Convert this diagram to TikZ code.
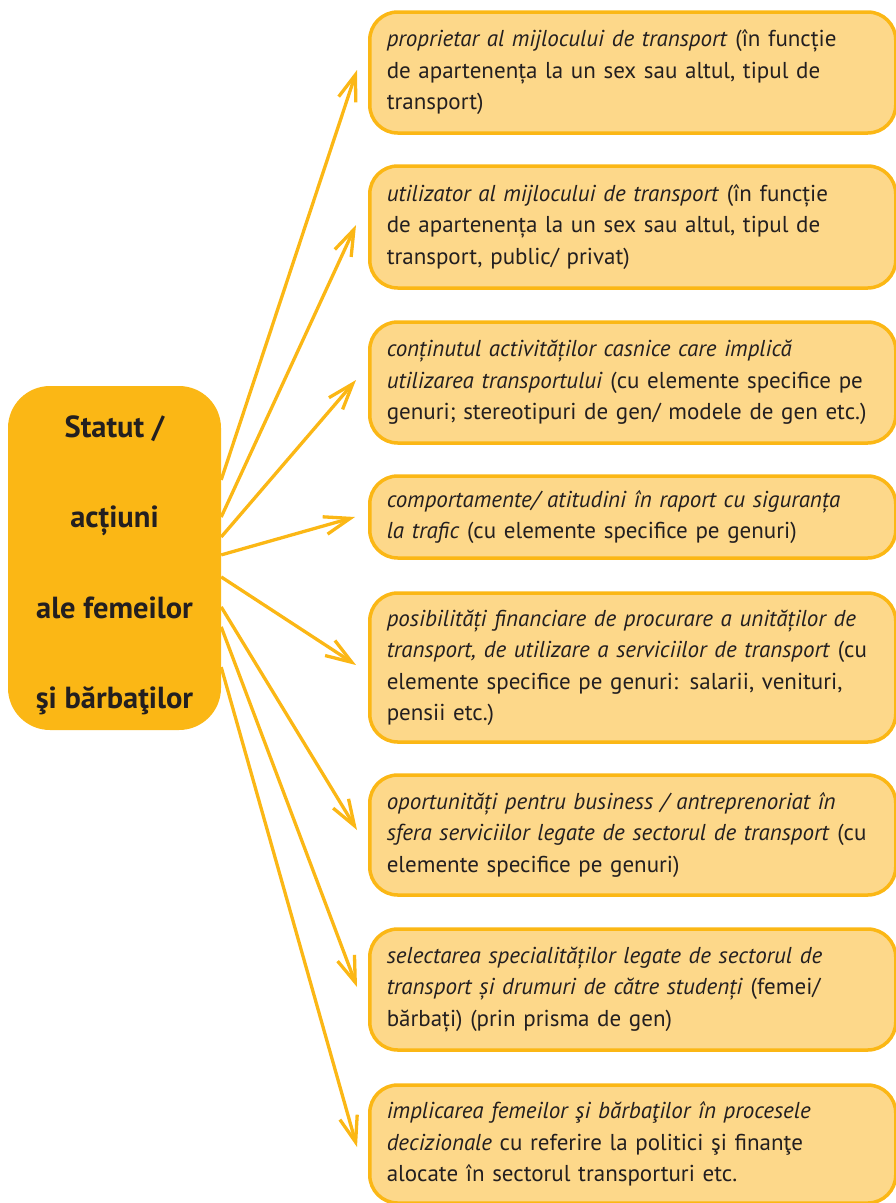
\documentclass[tikz,border=0pt]{standalone}
\usepackage{fontspec}
\setmainfont{PT Sans}
\usetikzlibrary{arrows.meta,calc}
\definecolor{gold}{RGB}{251,183,21}
\definecolor{lightgold}{RGB}{253,216,138}
\definecolor{ink}{RGB}{35,31,32}
\begin{document}
\begin{tikzpicture}[x=1pt,y=-1pt,
  rbox/.style={draw=gold, line width=3.5pt, fill=lightgold, rounded corners=28pt,
    text width=492pt, inner xsep=17pt, inner ysep=0pt, align=left, anchor=west,
    font=\fontsize{23}{31.5}\selectfont, text=ink},
  lbox/.style={fill=gold, draw=none, rounded corners=42pt, minimum width=213pt,
    minimum height=344pt, align=center, inner sep=0pt,
    font=\bfseries\fontsize{30.5}{90.5}\selectfont, text=ink},
  arr/.style={draw=gold, line width=3.3pt, -{Straight Barb[length=26pt,width=18pt]}}]
\useasboundingbox (0,0) rectangle (896,1203);

\node[lbox] (L) at (114.5,558) {\rule{0pt}{36pt}Statut /\\acțiuni\\ale femeilor\\şi bărbaţilor};

\node[rbox, minimum height=121pt] (b1) at (368,72.5) {\textit{proprietar al mijlocului de transport} (în funcție\\de apartenența la un sex sau altul, tipul de\\transport)};
\node[rbox, minimum height=122pt] (b2) at (368,227) {\textit{utilizator al mijlocului de transport} (în funcție\\de apartenența la un sex sau altul, tipul de\\transport, public/ privat)};
\node[rbox, minimum height=121pt] (b3) at (368,382.5) {\textit{conținutul activităților casnice care implică}\\\textit{utilizarea transportului} (cu elemente specifice pe\\genuri; stereotipuri de gen/ modele de gen etc.)};
\node[rbox, minimum height=82pt] (b4) at (368,517) {\textit{comportamente/ atitudini în raport cu siguranța}\\\textit{la trafic} (cu elemente specifice pe genuri)};
\node[rbox, minimum height=149pt] (b5) at (368,667.5) {\textit{posibilități financiare de procurare a unităților de}\\\textit{transport, de utilizare a serviciilor de transport} (cu\\elemente specifice pe genuri: salarii, venituri,\\pensii etc.)};
\node[rbox, minimum height=120pt] (b6) at (368,835) {\textit{oportunități pentru business / antreprenoriat în}\\\textit{sfera serviciilor legate de sectorul de transport} (cu\\elemente specifice pe genuri)};
\node[rbox, minimum height=121pt] (b7) at (368,989.5) {\textit{selectarea specialităților legate de sectorul de}\\\textit{transport și drumuri de către studenți} (femei/\\bărbați) (prin prisma de gen)};
\node[rbox, minimum height=118pt] (b8) at (368,1144) {\textit{implicarea femeilor şi bărbaţilor în procesele}\\\textit{decizionale} cu referire la politici şi finanţe\\alocate în sectorul transporturi etc.};

\draw[arr] ($(L.north east)!0.273!(L.south east)$) -- ([xshift=-11pt,yshift=2.5pt]b1.west);
\draw[arr] ($(L.north east)!0.381!(L.south east)$) -- ([xshift=-12pt,yshift=2pt]b2.west);
\draw[arr] ($(L.north east)!0.439!(L.south east)$) -- ([xshift=-12pt,yshift=2.5pt]b3.west);
\draw[arr] ($(L.north east)!0.491!(L.south east)$) -- ([xshift=-13pt]b4.west);
\draw[arr] ($(L.north east)!0.555!(L.south east)$) -- ([xshift=-12pt,yshift=2.5pt]b5.west);
\draw[arr] ($(L.north east)!0.642!(L.south east)$) -- ([xshift=-11pt,yshift=5pt]b6.west);
\draw[arr] ($(L.north east)!0.700!(L.south east)$) -- ([xshift=-11pt,yshift=2.5pt]b7.west);
\draw[arr] ($(L.north east)!0.817!(L.south east)$) -- ([xshift=-11pt,yshift=-3pt]b8.west);
\end{tikzpicture}
\end{document}
